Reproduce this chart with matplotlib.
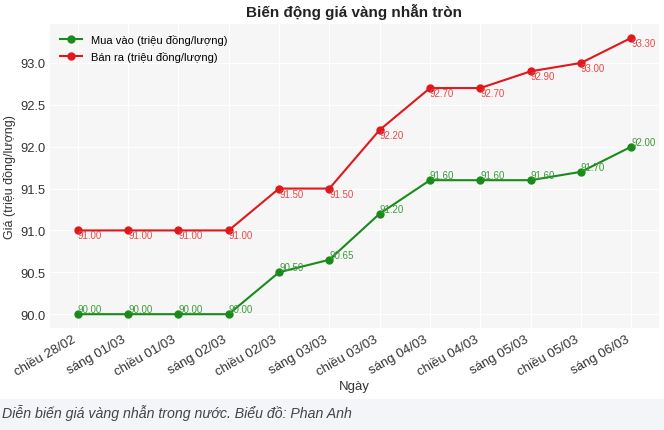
import numpy as np
import matplotlib
matplotlib.use('Agg')
import matplotlib.pyplot as plt
from matplotlib.patches import Rectangle

plt.rcParams['font.family'] = ['Liberation Sans', 'DejaVu Sans']

# du lieu
ngay = ['chiều 28/02', 'sáng 01/03', 'chiều 01/03', 'sáng 02/03', 'chiều 02/03',
        'sáng 03/03', 'chiều 03/03', 'sáng 04/03', 'chiều 04/03', 'sáng 05/03',
        'chiều 05/03', 'sáng 06/03']
mua_vao = [90.00, 90.00, 90.00, 90.00, 90.50, 90.65, 91.20, 91.60, 91.60, 91.60, 91.70, 92.00]
ban_ra = [91.00, 91.00, 91.00, 91.00, 91.50, 91.50, 92.20, 92.70, 92.70, 92.90, 93.00, 93.30]

fig = plt.figure(figsize=(6.64, 4.31), dpi=100)
fig.patch.set_facecolor('white')

# dai chu thich phia duoi
fig.patches.append(Rectangle((0, 0), 1, 31 / 431, transform=fig.transFigure,
                             facecolor='#f3f5f8', edgecolor='none', zorder=0))

ax = fig.add_axes([50 / 664, 1 - 329 / 431, 609 / 664, 304 / 431])
ax.set_facecolor('#f6f6f6')
for s in ax.spines.values():
    s.set_visible(False)
ax.grid(True, color='white', linewidth=0.8)
ax.set_axisbelow(True)

x = np.arange(len(ngay))
ax.plot(x, mua_vao, color='#1a8a1a', marker='o', markersize=5, linewidth=1.5,
        label='Mua vào (triệu đồng/lượng)')
ax.plot(x, ban_ra, color='#e0181c', marker='o', markersize=5, linewidth=1.5,
        label='Bán ra (triệu đồng/lượng)')

for i in range(len(x)):
    ax.text(x[i], mua_vao[i], f'{mua_vao[i]:.2f}', fontsize=7, color='#3c9c3c',
            ha='left', va='bottom')
    ax.text(x[i], ban_ra[i], f'{ban_ra[i]:.2f}', fontsize=7, color='#e84a4a',
            ha='left', va='top')

ax.set_xticks(x)
ax.set_xticklabels(ngay, rotation=30, ha='right', fontsize=9.5, color='#333333')
ax.tick_params(axis='y', labelsize=9.3, colors='#333333')
ax.tick_params(length=0)
ax.set_yticks([90.0, 90.5, 91.0, 91.5, 92.0, 92.5, 93.0])
ax.set_xlabel('Ngày', fontsize=9.5, color='#333333', labelpad=2)
ax.set_ylabel('Giá (triệu đồng/lượng)', fontsize=9, color='#333333', labelpad=3)
ax.set_title('Biến động giá vàng nhẫn tròn', fontsize=11, fontweight='bold',
             color='#222222', pad=6)

ax.legend(loc='upper left', fontsize=8, frameon=False)

fig.text(2 / 664, 1 - 413 / 431, 'Diễn biến giá vàng nhẫn trong nước. Biểu đồ: Phan Anh',
         fontsize=10.2, style='italic', color='#444444', va='center', ha='left')

fig.savefig('out.png', dpi=100)
